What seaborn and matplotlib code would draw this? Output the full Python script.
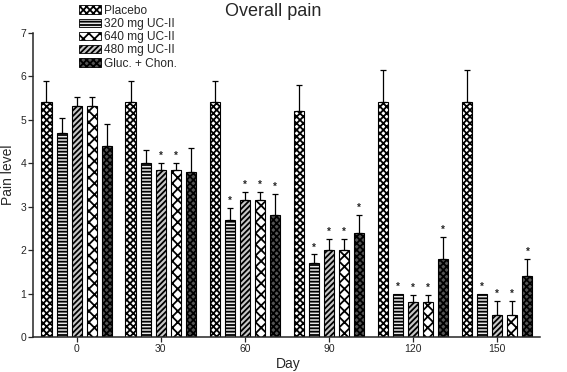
import numpy as np
import pandas as pd
import matplotlib
matplotlib.use("Agg")
import matplotlib.pyplot as plt
import matplotlib.patches as mpatches
import seaborn as sns

days = ["0", "30", "60", "90", "120", "150"]
groups = ["Placebo", "320 mg UC-II", "480 mg UC-II", "640 mg UC-II", "Gluc. + Chon."]
legend_order = ["Placebo", "320 mg UC-II", "640 mg UC-II", "480 mg UC-II", "Gluc. + Chon."]

placebo = [5.4, 5.4, 5.4, 5.2, 5.4, 5.4]
uc320 = [4.7, 4.0, 2.7, 1.7, 1.0, 1.0]
uc480 = [5.33, 3.84, 3.16, 2.0, 0.8, 0.5]
uc640 = [5.33, 3.84, 3.16, 2.0, 0.8, 0.5]
gluc = [4.4, 3.8, 2.8, 2.4, 1.8, 1.4]

placebo_err = [0.5, 0.5, 0.5, 0.6, 0.75, 0.75]
uc320_err = [0.35, 0.3, 0.27, 0.2, 0.0, 0.0]
uc480_err = [0.2, 0.17, 0.17, 0.26, 0.17, 0.33]
uc640_err = [0.2, 0.17, 0.17, 0.26, 0.17, 0.33]
gluc_err = [0.5, 0.55, 0.49, 0.4, 0.5, 0.4]

placebo_sig = [0, 0, 0, 0, 0, 0]
uc320_sig = [0, 0, 1, 1, 1, 1]
uc480_sig = [0, 1, 1, 1, 1, 1]
uc640_sig = [0, 1, 1, 1, 1, 1]
gluc_sig = [0, 0, 1, 1, 1, 1]

means = [placebo, uc320, uc480, uc640, gluc]
errs = [placebo_err, uc320_err, uc480_err, uc640_err, gluc_err]
sigs = [placebo_sig, uc320_sig, uc480_sig, uc640_sig, gluc_sig]

rows = []
for g, m in zip(groups, means):
    for d, v in zip(days, m):
        rows.append({"Day": d, "group": g, "value": v})
df = pd.DataFrame(rows)

sns.set_style("ticks")
plt.rcParams["font.family"] = ["Liberation Sans", "DejaVu Sans"]
plt.rcParams["hatch.linewidth"] = 1.3

styles = {
    "Placebo": dict(facecolor="white", hatch="xxxxx"),
    "320 mg UC-II": dict(facecolor="#e8e8e8", hatch="-----"),
    "480 mg UC-II": dict(facecolor="#c8c8c8", hatch="//////"),
    "640 mg UC-II": dict(facecolor="white", hatch="xxx"),
    "Gluc. + Chon.": dict(facecolor="#555555", hatch="xxxxx"),
}

fig = plt.figure(figsize=(5.67, 3.72), dpi=100)
ax = fig.add_axes([33/567, 1-337/372, (540-33)/567, (337-33)/372])

sns.barplot(data=df, x="Day", y="value", hue="group", order=days,
            hue_order=groups, palette=["white"]*5, width=0.9, gap=0.33,
            errorbar=None, edgecolor="black", linewidth=0.8, legend=False, ax=ax)

bar_containers = list(ax.containers)
for gi, cont in enumerate(bar_containers):
    st = styles[groups[gi]]
    for di, p in enumerate(cont.patches):
        p.set_facecolor(st["facecolor"])
        p.set_hatch(st["hatch"])
        p.set_edgecolor("black")
        xc = p.get_x() + p.get_width()/2
        h = p.get_height()
        e = errs[gi][di]
        if e > 0:
            ax.errorbar([xc], [h], yerr=[[0], [e]], fmt="none", ecolor="black",
                        elinewidth=0.9, capsize=2.5, capthick=0.9, zorder=3)
        if sigs[gi][di]:
            ax.annotate("*", (xc, h + e), xytext=(0, 1.5), textcoords="offset points",
                        ha="center", va="bottom", fontsize=7, fontweight="bold")

ax.set_xlim(-0.52, 5.51)
ax.set_ylim(0, 7)
ax.set_yticks(range(0, 8))
ax.tick_params(axis="both", labelsize=7.5, length=3.5, width=0.9, pad=1.5)
for s in ["left", "bottom"]:
    ax.spines[s].set_linewidth(1.1)
sns.despine(ax=ax)
ax.set_xlabel("Day", fontsize=10)
ax.xaxis.set_label_coords((288-33)/507, -0.065)
ax.set_ylabel("Pain level", fontsize=10, labelpad=2)
ax.yaxis.set_label_coords((15-33)/507, (337-175)/304)

fig.text(273/567, 1-12/372, "Overall pain", ha="center", va="center", fontsize=13)

handles = []
for name in legend_order:
    st = styles[name]
    handles.append(mpatches.Patch(facecolor=st["facecolor"], hatch=st["hatch"],
                                  edgecolor="black", linewidth=0.6, label=name))
fig.legend(handles=handles, loc="upper left", bbox_to_anchor=(77/567, 1-3/372),
           frameon=False, fontsize=8.6, handlelength=1.9, handleheight=0.7,
           handletextpad=0.2, labelspacing=0.1, borderaxespad=0, borderpad=0.15)

fig.savefig("out.png", dpi=100)
